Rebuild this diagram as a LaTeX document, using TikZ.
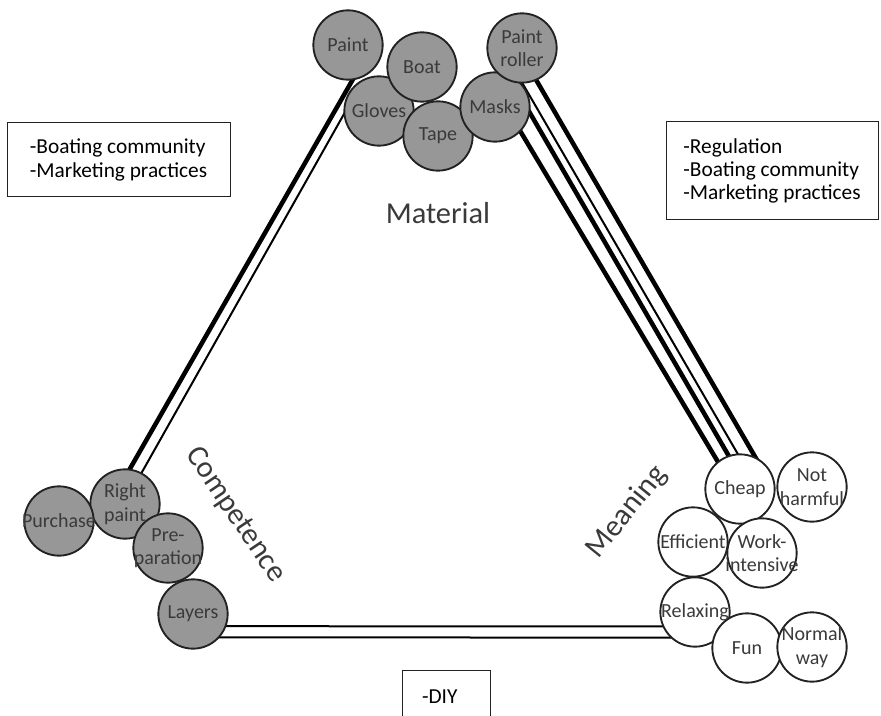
\documentclass[tikz,border=0pt]{standalone}
\usepackage{fontspec}
\setmainfont{Carlito}
\usetikzlibrary{backgrounds}

\definecolor{ink}{HTML}{222222}
\definecolor{txt}{HTML}{3A3A3A}
\definecolor{disc}{HTML}{979797}

\tikzset{
  elem/.style={circle, draw=ink, line width=1.4pt, minimum size=52pt, inner sep=0pt},
  material/.style={elem, fill=disc},
  meaning/.style={elem, fill=white},
  tag/.style={text=txt, font=\fontsize{15}{17.5}\selectfont, align=center, inner sep=0pt},
  theme/.style={text=txt, font=\fontsize{22.8}{26}\selectfont, inner sep=0pt},
  note/.style={draw=ink, line width=0.75pt, align=left,
    text=black, font=\fontsize{16}{17.5}\selectfont},
  heavy/.style={line width=3.4pt, draw=black, shorten <=-3pt, shorten >=-3pt},
  light/.style={line width=1.5pt, draw=black, shorten <=-3pt, shorten >=-3pt},
}

\begin{document}
\begin{tikzpicture}[x=0.75pt, y=-0.75pt]
\useasboundingbox (0,0) rectangle (881,716);

% Material elements
\foreach \n/\x/\y in {paint/348/45, gloves/379/111, boat/422/67,
                      tape/438/136, masks/495/107, roller/522/48}
  \node[material] (\n) at (\x,\y) {};

% Competence elements
\foreach \n/\x/\y in {rpaint/125/504, purchase/59/521, prep/168/548, layers/193/614}
  \node[material] (\n) at (\x,\y) {};

% Meaning elements
\foreach \n/\x/\y in {cheap/740/489, notharm/812/487, effic/693/542, work/762/553,
                      relax/695/612, fun/747/648, normal/812/647}
  \node[meaning] (\n) at (\x,\y) {};

% Element names
\foreach \n/\t in {paint/Paint, gloves/Gloves, boat/Boat, tape/Tape, masks/Masks,
                   roller/{Paint\\roller}, rpaint/{Right\\paint}, purchase/Purchase,
                   prep/{Pre-\\paration}, layers/Layers, cheap/Cheap,
                   notharm/{Not\\harmful}, effic/Efficient, work/{Work-\\intensive},
                   relax/Relaxing, fun/Fun, normal/{Normal\\way}}
  \node[tag] (\n-t) at (\n) {\t};

% Links between the three element groups
\begin{pgfonlayer}{background}
  \draw[heavy] (paint.-83) -- (rpaint.82);
  \draw[light] (gloves.186) -- (rpaint.62);
  \draw[heavy] (masks.-44) -- (cheap.129);
  \draw[heavy] (masks.-10) -- (cheap.109);
  \draw[light] (roller.-89) -- (cheap.94);
  \draw[heavy] (roller.-66) -- (cheap.65);
  \draw[light] (layers.-20) -- (relax.204);
  \draw[light] (layers.-41) -- (relax.226);
\end{pgfonlayer}

% Group titles
\node[theme] (mat-lab) at (438,213) {Material};
\node[theme, rotate=-56] (comp-lab) at (235,515) {Competence};
\node[theme, rotate=51] (mean-lab) at (627,512) {Meaning};

% Context boxes
\node[note, minimum width=167.25pt, minimum height=55.5pt]
  (ctx-left) at (118.5,160) {-Boating community\\-Marketing practices};
\node[note, minimum width=159pt, minimum height=73.5pt]
  (ctx-right) at (772,171) {-Regulation\\-Boating community\\-Marketing practices};
\node[note, minimum width=66pt, minimum height=40.5pt, inner xsep=15pt, text width=36pt]
  (ctx-bottom) at (446,697) {-DIY};
\end{tikzpicture}
\end{document}
